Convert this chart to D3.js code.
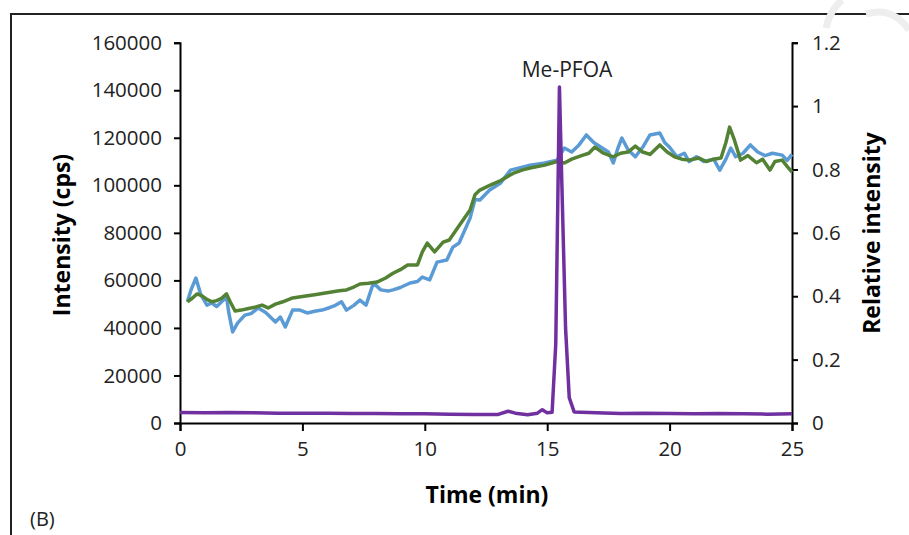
<!DOCTYPE html>
<html>
<head>
<meta charset="utf-8">
<script src="https://cdn.jsdelivr.net/npm/d3@7"></script>
<style>
  body { margin: 0; background: white; }
  svg { display: block; font-family: "Open Sans", sans-serif; }
  .axis path, .axis line { stroke: #000; stroke-width: 2; }
  .axis text { font-size: 20.5px; fill: #222; font-family: "Open Sans", sans-serif; }
</style>
</head>
<body>
<div class="display"></div>
<script>
// time (min) and intensity (cps) of the two background traces
const blueTime = [0.3, 0.45, 0.65, 0.85, 1.1, 1.3, 1.5, 1.7, 1.9, 2.0, 2.15, 2.35, 2.65, 2.9, 3.2, 3.5, 3.9, 4.1, 4.3, 4.6,
    4.9, 5.2, 5.5, 5.8, 6.1, 6.35, 6.6, 6.8, 7.1, 7.35, 7.6, 7.9, 8.2, 8.5, 8.7, 9.0, 9.4, 9.7, 9.9, 10.2,
    10.5, 10.9, 11.15, 11.4, 11.85, 12.05, 12.25, 12.65, 13.1, 13.5, 14.3, 14.9, 15.4, 15.7, 16.0, 16.3, 16.6, 16.9, 17.2, 17.5,
    17.7, 17.9, 18.05, 18.3, 18.6, 18.9, 19.2, 19.6, 19.8, 20.0, 20.3, 20.6, 20.8, 21.1, 21.4, 21.8, 22.05, 22.3, 22.5, 22.7,
    23.0, 23.3, 23.6, 23.9, 24.2, 24.6, 24.8, 25.0];
const blueValues = [51000, 56000, 61000, 54000, 49600, 50500, 49000, 51000, 53000, 46000, 38300, 42000, 45400, 46000, 48400, 46500, 42500, 44600, 40400, 47500,
    47500, 46300, 47000, 47500, 48500, 49500, 51000, 47500, 49500, 51700, 49600, 58900, 56000, 55500, 56000, 57000, 58900, 59500, 61400, 60200,
    67700, 68600, 74000, 75700, 86200, 94000, 93800, 98000, 101000, 106400, 108500, 109400, 110600, 115700, 114000, 117000, 121200, 118000, 116000, 114000,
    109400, 116000, 119900, 115000, 112000, 116000, 121200, 122000, 118000, 116000, 112000, 113500, 110000, 112000, 110000, 111000, 106400, 111000, 115700, 112000,
    113500, 117000, 114000, 112500, 113500, 112700, 110500, 113000];

const greenTime = [0.3, 0.5, 0.7, 0.9, 1.1, 1.3, 1.5, 1.7, 1.9, 2.05, 2.25, 2.5, 2.8, 3.1, 3.35, 3.6, 3.9, 4.2, 4.6, 5.0,
    5.5, 6.0, 6.5, 6.8, 7.1, 7.35, 7.7, 8.05, 8.4, 8.7, 9.0, 9.3, 9.7, 9.9, 10.1, 10.4, 10.75, 11.0, 11.4, 11.85,
    12.05, 12.25, 12.65, 13.1, 13.6, 14.0, 14.3, 14.9, 15.4, 15.7, 16.0, 16.4, 16.7, 16.95, 17.3, 17.7, 18.0, 18.3, 18.6, 18.9,
    19.2, 19.6, 19.9, 20.2, 20.5, 20.8, 21.2, 21.5, 21.8, 22.1, 22.3, 22.45, 22.65, 22.9, 23.2, 23.55, 23.8, 24.1, 24.3, 24.6,
    24.8, 25.0];
const greenValues = [51000, 52500, 54300, 53500, 52000, 51000, 51500, 52500, 54300, 51000, 47100, 47500, 48200, 48800, 49600, 48400, 50000, 51000, 52600, 53200,
    54000, 54800, 55600, 56000, 57200, 58500, 58800, 59300, 61000, 63000, 64500, 66500, 66500, 72000, 75700, 72000, 76100, 77000, 83000, 89600,
    96000, 98000, 100000, 102000, 105000, 106500, 107300, 108500, 110000, 109400, 111000, 112500, 113500, 116100, 113500, 112000, 113500, 114000, 116500, 114000,
    113000, 117000, 114000, 112000, 111000, 110600, 111500, 110000, 111000, 111500, 118000, 124500, 119000, 110600, 112500, 109500, 111000, 106400, 110000, 110600,
    108000, 105600];

// relative intensity of the Me-PFOA trace
const purpleTime = [0, 1, 2, 3, 4, 5, 6, 7, 8, 9, 10, 11, 12, 13, 13.4, 13.7, 14.2, 14.6, 14.8, 15.0,
    15.2, 15.35, 15.5, 15.6, 15.75, 15.9, 16.1, 17, 18, 19, 20, 21, 22, 23, 24, 25];
const purpleValues = [0.033, 0.032, 0.033, 0.032, 0.031, 0.031, 0.031, 0.030, 0.030, 0.029, 0.029, 0.028, 0.027, 0.027, 0.037, 0.031, 0.026, 0.031, 0.042, 0.032,
    0.034, 0.25, 1.06, 0.75, 0.30, 0.08, 0.035, 0.032, 0.030, 0.031, 0.030, 0.029, 0.030, 0.029, 0.028, 0.029];

const xTicks = [0, 5, 10, 15, 20, 25];
const leftTicks = [0, 20000, 40000, 60000, 80000, 100000, 120000, 140000, 160000];
const rightTicks = [0, 0.2, 0.4, 0.6, 0.8, 1, 1.2];

const width = 909;
const height = 535;
const plotLeft = 180, plotRight = 792, plotTop = 42.7, plotBottom = 423;

const svg = d3.select('.display')
    .append('svg')
    .attr('width', width)
    .attr('height', height);

// outer frame
svg.append('rect')
    .attr('x', 11).attr('y', 14)
    .attr('width', 1000).attr('height', 600)
    .attr('fill', 'white')
    .attr('stroke', '#222')
    .attr('stroke-width', 2);

// faint watermark arcs in the corner
svg.append('path')
    .attr('d', 'M826,28 Q830,10 842,0')
    .attr('fill', 'none').attr('stroke', '#eeeeee').attr('stroke-width', 7);
svg.append('path')
    .attr('d', 'M866,14 Q892,6 909,30')
    .attr('fill', 'none').attr('stroke', '#eeeeee').attr('stroke-width', 7);

const xScale = d3.scaleLinear().domain([0, 25]).range([plotLeft, plotRight]);
const yScale = d3.scaleLinear().domain([0, 160000]).range([plotBottom, plotTop]);
const yScale2 = d3.scaleLinear().domain([0, 1.2]).range([plotBottom, plotTop]);

svg.append('g')
    .attr('class', 'axis')
    .attr('transform', `translate(0, ${plotBottom})`)
    .call(d3.axisBottom(xScale).tickValues(xTicks).tickFormat(d3.format('d')).tickSizeOuter(0).tickSize(8).tickPadding(10));

svg.append('g')
    .attr('class', 'axis')
    .attr('transform', `translate(${plotLeft}, 0)`)
    .call(d3.axisLeft(yScale).tickValues(leftTicks).tickFormat(d3.format('d')).tickSizeOuter(0).tickSize(6).tickPadding(12));

svg.append('g')
    .attr('class', 'axis')
    .attr('transform', `translate(${plotRight}, 0)`)
    .call(d3.axisRight(yScale2).tickValues(rightTicks).tickFormat(d => String(+d.toFixed(1))).tickSizeOuter(0).tickSize(6).tickPadding(14));

const line = d3.line().x(d => xScale(d[0])).y(d => yScale(d[1]));
const line2 = d3.line().x(d => xScale(d[0])).y(d => yScale2(d[1]));

svg.append('path')
    .datum(blueTime.map((t, i) => [t, blueValues[i]]))
    .attr('d', line)
    .attr('fill', 'none')
    .attr('stroke', '#5b9bd5')
    .attr('stroke-width', 3.5)
    .attr('stroke-linejoin', 'round');

svg.append('path')
    .datum(greenTime.map((t, i) => [t, greenValues[i]]))
    .attr('d', line)
    .attr('fill', 'none')
    .attr('stroke', '#548235')
    .attr('stroke-width', 3.5)
    .attr('stroke-linejoin', 'round');

svg.append('path')
    .datum(purpleTime.map((t, i) => [t, purpleValues[i]]))
    .attr('d', line2)
    .attr('fill', 'none')
    .attr('stroke', '#7030a0')
    .attr('stroke-width', 3.5)
    .attr('stroke-linejoin', 'round');

svg.append('text')
    .attr('x', 567).attr('y', 77)
    .attr('text-anchor', 'middle')
    .attr('font-size', 21)
    .attr('fill', '#222')
    .text('Me-PFOA');

svg.append('text')
    .attr('x', 487).attr('y', 503)
    .attr('text-anchor', 'middle')
    .attr('font-size', 23)
    .attr('font-weight', 'bold')
    .text('Time (min)');

svg.append('text')
    .attr('transform', 'translate(70, 235) rotate(-90)')
    .attr('text-anchor', 'middle')
    .attr('font-size', 23)
    .attr('font-weight', 'bold')
    .text('Intensity (cps)');

svg.append('text')
    .attr('transform', 'translate(880, 233) rotate(-90)')
    .attr('text-anchor', 'middle')
    .attr('font-size', 23)
    .attr('font-weight', 'bold')
    .text('Relative intensity');

svg.append('text')
    .attr('x', 30).attr('y', 526)
    .attr('font-size', 20)
    .attr('fill', '#222')
    .text('(B)');
</script>
</body>
</html>
